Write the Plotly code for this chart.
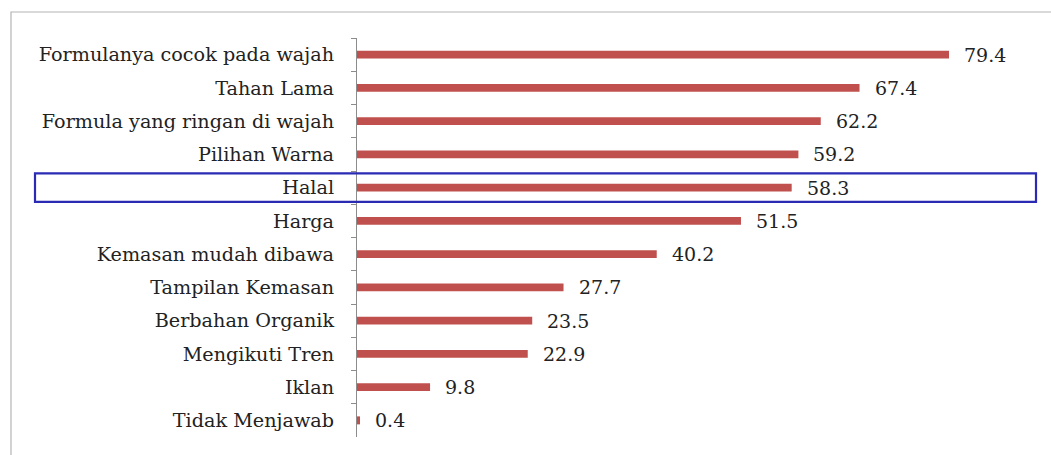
import plotly.graph_objects as go

categories = ["Formulanya cocok pada wajah", "Tahan Lama", "Formula yang ringan di wajah",
              "Pilihan Warna", "Halal", "Harga", "Kemasan mudah dibawa", "Tampilan Kemasan",
              "Berbahan Organik", "Mengikuti Tren", "Iklan", "Tidak Menjawab"]
values = [79.4, 67.4, 62.2, 59.2, 58.3, 51.5, 40.2, 27.7, 23.5, 22.9, 9.8, 0.4]
value_labels = ["79.4", "67.4", "62.2", "59.2", "58.3", "51.5", "40.2", "27.7", "23.5", "22.9", "9.8", "0.4"]
highlight = "Halal"

W, H = 1051, 455
ml, mr, mt, mb = 357, 30, 38, 18
pw = W - ml - mr
ph = H - mt - mb
FONT = "DejaVu Serif, serif"

fig = go.Figure()
fig.add_trace(go.Bar(
    x=values, y=categories, orientation="h",
    marker=dict(color="#c0504d", line=dict(width=0)),
    width=0.24, hoverinfo="skip",
))

annotations = []
for c, v, t in zip(categories, values, value_labels):
    annotations.append(dict(x=v, y=c, xref="x", yref="y", text=t, showarrow=False,
                            xanchor="left", yanchor="middle", xshift=13,
                            font=dict(family=FONT, size=19, color="#222222")))

hi = categories.index(highlight)
def px_x(p):
    return (p - ml) / pw
def px_y(p):
    return 1 - (p - mt) / ph

shapes = [
    # outer chart border
    dict(type="rect", xref="paper", yref="paper",
         x0=px_x(11), x1=px_x(1060), y0=px_y(470), y1=px_y(12),
         line=dict(color="#b4b4b4", width=1.2), fillcolor="rgba(0,0,0,0)", layer="below"),
    # highlight box
    dict(type="rect", xref="paper", yref="y",
         x0=px_x(35), x1=px_x(1036), y0=hi - 0.43, y1=hi + 0.43,
         line=dict(color="#2a2ab4", width=2.2), fillcolor="rgba(0,0,0,0)"),
]

fig.update_layout(
    width=W, height=H,
    margin=dict(l=ml, r=mr, t=mt, b=mb, pad=0),
    paper_bgcolor="white", plot_bgcolor="white",
    showlegend=False,
    annotations=annotations, shapes=shapes,
    xaxis=dict(range=[0, pw / 7.456], visible=False, fixedrange=True),
    yaxis=dict(type="category", categoryorder="array", categoryarray=categories,
               autorange="reversed", showline=True, linecolor="#8c8c8c", linewidth=1.2,
               ticks="outside", ticklen=5, tickcolor="#8c8c8c", tickson="boundaries",
               ticklabelstandoff=18,
               tickfont=dict(family=FONT, size=19.2, color="#222222"),
               showgrid=False, zeroline=False, fixedrange=True),
)

fig.write_html("out.html")
